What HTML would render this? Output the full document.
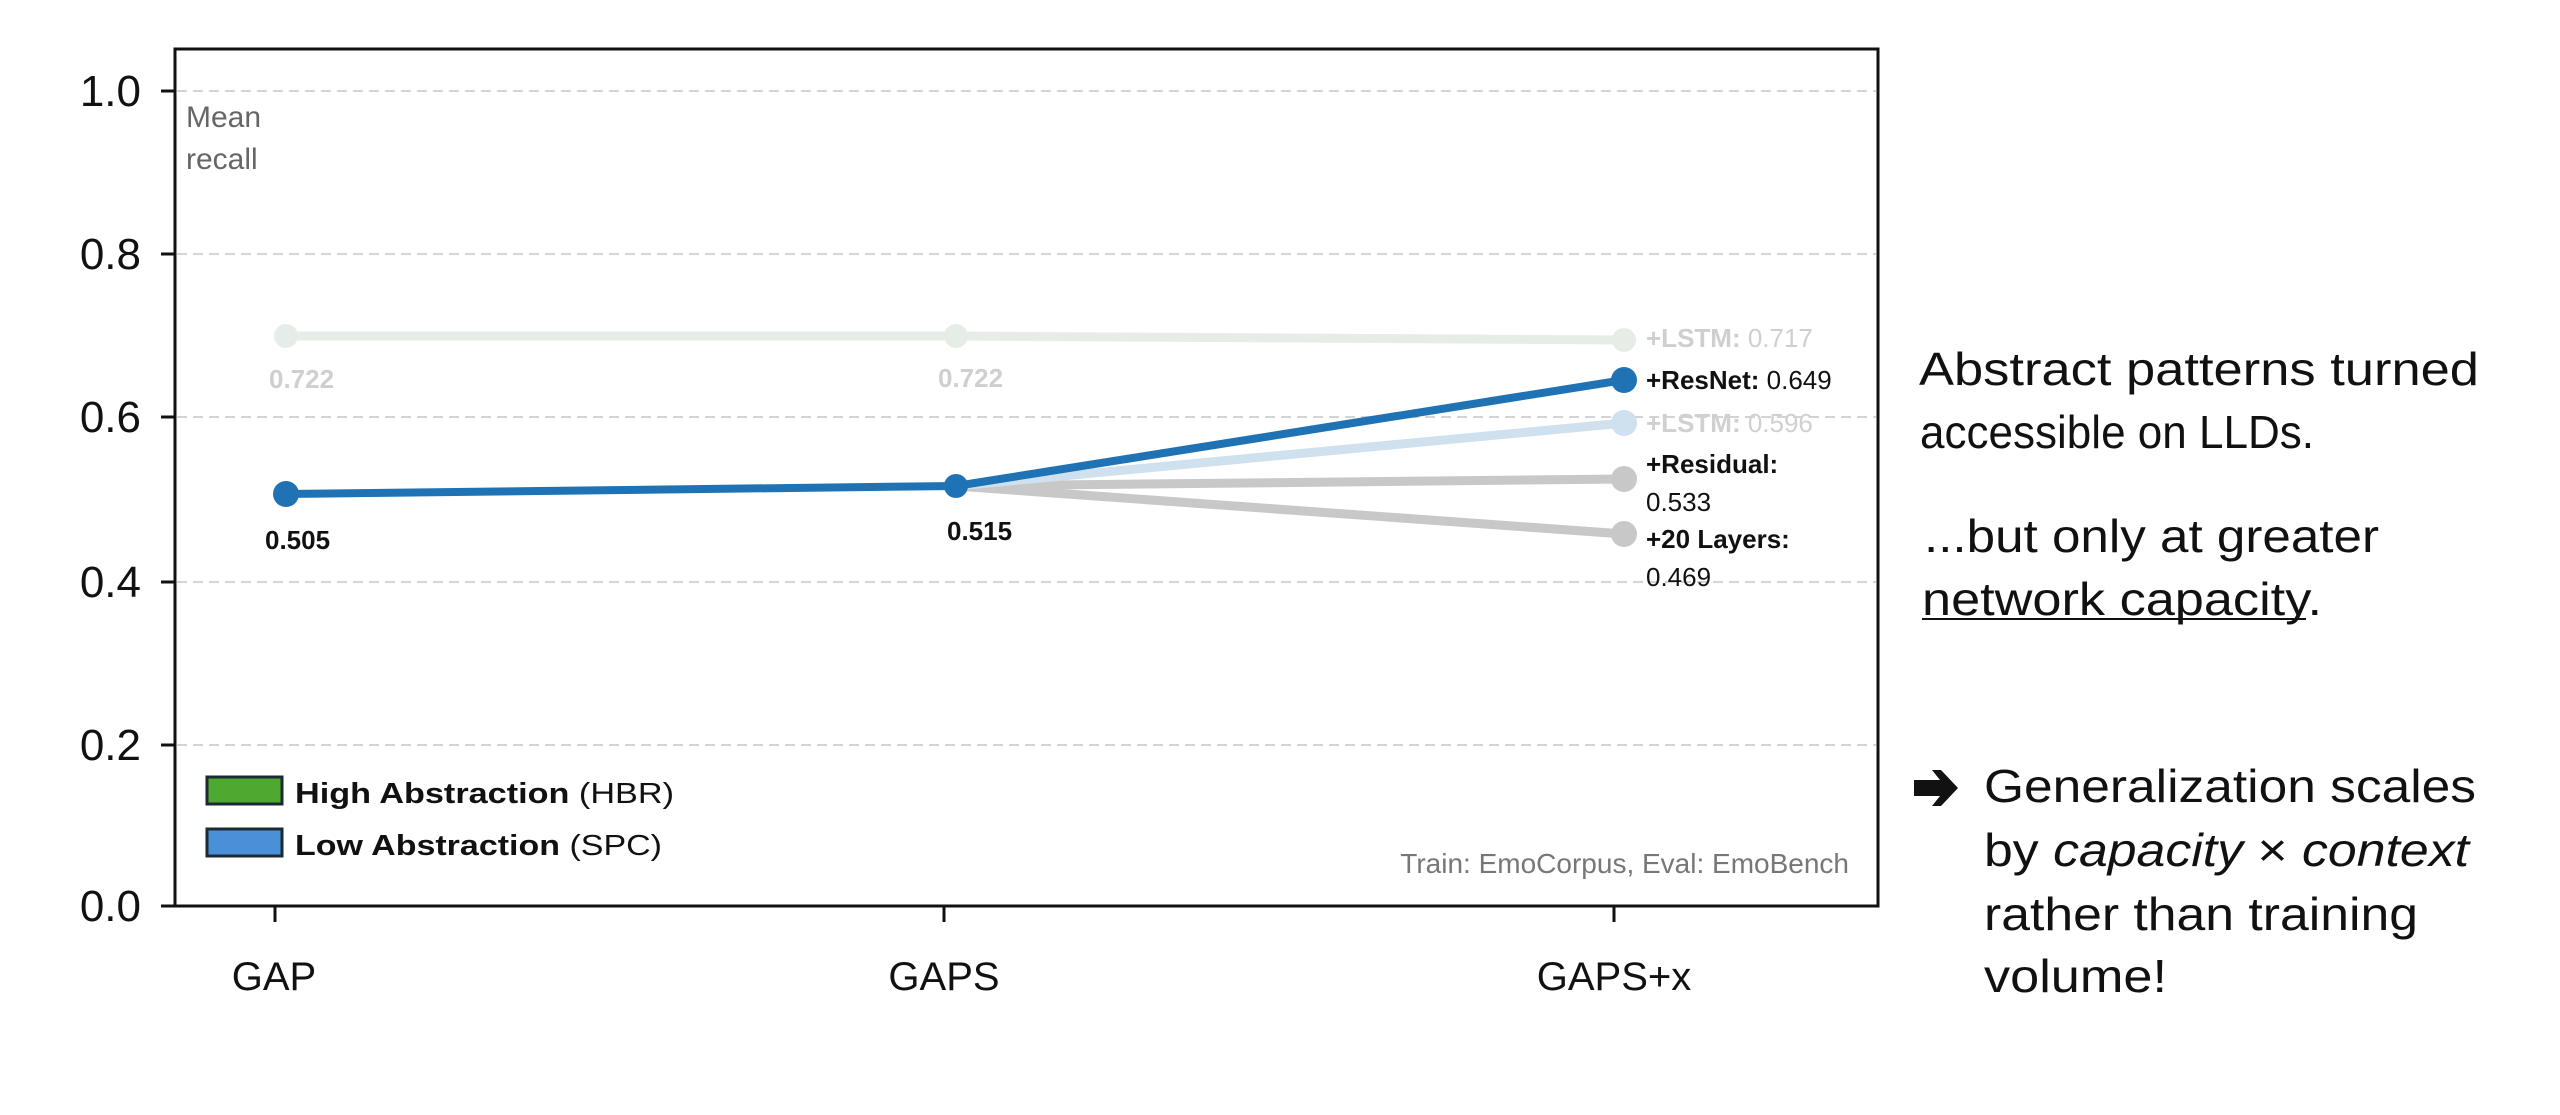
<!DOCTYPE html>
<html><head><meta charset="utf-8"><style>html,body{margin:0;padding:0;background:#fff;}svg{display:block;}</style></head>
<body>
<svg xmlns="http://www.w3.org/2000/svg" width="2560" height="1115" viewBox="0 0 2560 1115" font-family="Liberation Sans, sans-serif">
<rect width="2560" height="1115" fill="#fff"/>
<g stroke="#d4d4d4" stroke-width="2" stroke-dasharray="10,6">
<line x1="177" y1="91" x2="1876" y2="91"/>
<line x1="177" y1="254" x2="1876" y2="254"/>
<line x1="177" y1="417" x2="1876" y2="417"/>
<line x1="177" y1="582" x2="1876" y2="582"/>
<line x1="177" y1="745" x2="1876" y2="745"/>
</g>
<rect x="175" y="49" width="1703" height="857" fill="none" stroke="#111" stroke-width="3"/>
<g stroke="#111" stroke-width="3">
<line x1="161" y1="91" x2="175" y2="91"/><line x1="161" y1="254" x2="175" y2="254"/>
<line x1="161" y1="417" x2="175" y2="417"/><line x1="161" y1="582" x2="175" y2="582"/>
<line x1="161" y1="745" x2="175" y2="745"/><line x1="161" y1="906" x2="175" y2="906"/>
<line x1="275" y1="906" x2="275" y2="922"/><line x1="944" y1="906" x2="944" y2="922"/><line x1="1614" y1="906" x2="1614" y2="922"/>
</g>
<g font-size="44" fill="#111" text-anchor="end">
<text x="141" y="106">1.0</text><text x="141" y="269">0.8</text><text x="141" y="432">0.6</text>
<text x="141" y="597">0.4</text><text x="141" y="760">0.2</text><text x="141" y="921">0.0</text>
</g>
<g font-size="40" fill="#111" text-anchor="middle">
<text x="274" y="990">GAP</text><text x="944" y="990">GAPS</text><text x="1614" y="990">GAPS+x</text>
</g>
<text x="186" y="127" font-size="30" fill="#666">Mean</text>
<text x="186" y="169" font-size="30" fill="#666">recall</text>
<g stroke-linecap="round" fill="none">
<polyline points="286,336 956,336 1624,340" stroke="#e6ede6" stroke-width="9"/>
<line x1="956" y1="486" x2="1624" y2="534" stroke="#c8c8c8" stroke-width="9"/>
<line x1="956" y1="486" x2="1624" y2="479" stroke="#c8c8c8" stroke-width="9"/>
<line x1="956" y1="486" x2="1624" y2="423" stroke="#cfe0ef" stroke-width="9"/>
<polyline points="286,494 956,486 1624,380" stroke="#1f73b4" stroke-width="8"/>
</g>
<g>
<circle cx="286" cy="336" r="12" fill="#e6ede6"/><circle cx="956" cy="336" r="12" fill="#e6ede6"/><circle cx="1624" cy="340" r="12" fill="#e6ede6"/>
<circle cx="1624" cy="534" r="13" fill="#c8c8c8"/><circle cx="1624" cy="479" r="13" fill="#c8c8c8"/>
<circle cx="1624" cy="423" r="13" fill="#cfe0ef"/>
<circle cx="286" cy="494" r="13" fill="#1f73b4"/><circle cx="956" cy="486" r="12" fill="#1f73b4"/><circle cx="1624" cy="380" r="13" fill="#1f73b4"/>
</g>
<g font-size="26" font-weight="bold">
<text x="269" y="388" fill="#cfcfcf">0.722</text>
<text x="938" y="387" fill="#cfcfcf">0.722</text>
<text x="265" y="549" fill="#111">0.505</text>
<text x="947" y="540" fill="#111">0.515</text>
</g>
<g font-size="26">
<text x="1646" y="347" fill="#cfcfcf"><tspan font-weight="bold">+LSTM:</tspan> 0.717</text>
<text x="1646" y="389" fill="#111"><tspan font-weight="bold">+ResNet:</tspan> 0.649</text>
<text x="1646" y="432" fill="#d0d0d0"><tspan font-weight="bold">+LSTM:</tspan> 0.596</text>
<text x="1646" y="473" fill="#111" font-weight="bold">+Residual:</text>
<text x="1646" y="511" fill="#111">0.533</text>
<text x="1646" y="548" fill="#111" font-weight="bold">+20 Layers:</text>
<text x="1646" y="586" fill="#111">0.469</text>
</g>
<rect x="207" y="777" width="75" height="27" fill="#4fa82f" stroke="#1b2a33" stroke-width="3"/>
<rect x="207" y="829" width="75" height="27" fill="#4a90d9" stroke="#1b2a33" stroke-width="3"/>
<text x="295" y="803" font-size="29" fill="#111" textLength="379" lengthAdjust="spacingAndGlyphs"><tspan font-weight="bold">High Abstraction</tspan> (HBR)</text>
<text x="295" y="855" font-size="29" fill="#111" textLength="367" lengthAdjust="spacingAndGlyphs"><tspan font-weight="bold">Low Abstraction</tspan> (SPC)</text>
<text x="1849" y="873" font-size="28" fill="#777" text-anchor="end">Train: EmoCorpus, Eval:  EmoBench</text>
<g font-size="46" fill="#111">
<text x="1919" y="385" textLength="560" lengthAdjust="spacingAndGlyphs">Abstract patterns turned</text>
<text x="1920" y="448" textLength="394" lengthAdjust="spacingAndGlyphs">accessible on LLDs.</text>
<text x="1924" y="552" textLength="455" lengthAdjust="spacingAndGlyphs">...but only at greater</text>
<text x="1922" y="615" textLength="400" lengthAdjust="spacingAndGlyphs">network capacity.</text>
<text x="1984" y="802" textLength="492" lengthAdjust="spacingAndGlyphs">Generalization scales</text>
<text x="1984" y="866" textLength="485" lengthAdjust="spacingAndGlyphs">by <tspan font-style="italic">capacity</tspan> × <tspan font-style="italic">context</tspan></text>
<text x="1984" y="930" textLength="434" lengthAdjust="spacingAndGlyphs">rather than training</text>
<text x="1984" y="992" textLength="183" lengthAdjust="spacingAndGlyphs">volume!</text>
</g>
<path d="M1914,780 L1940,780 L1932,770 L1941,770 L1958,788 L1941,806 L1932,806 L1940,796 L1914,796 Z" fill="#111"/>
<line x1="1922" y1="619" x2="2306" y2="619" stroke="#111" stroke-width="2"/>
</svg>
</body></html>
